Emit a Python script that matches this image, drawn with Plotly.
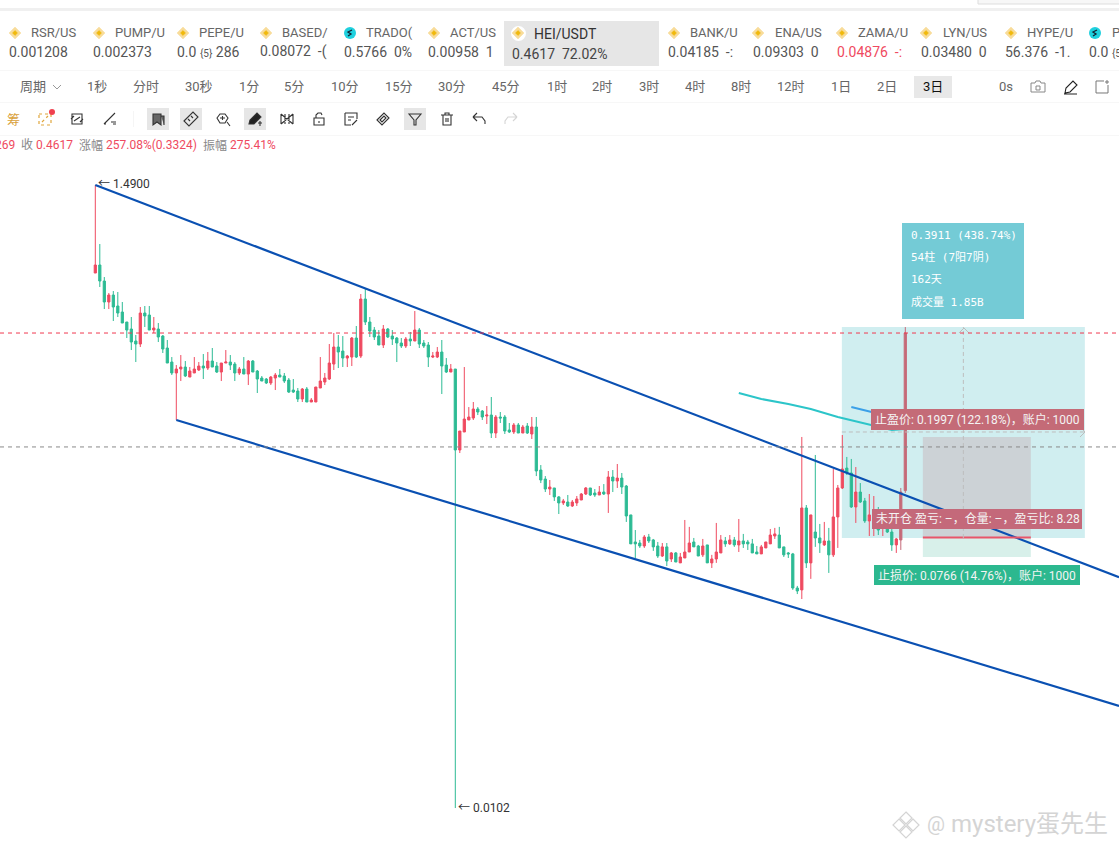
"""HEI/USDT 3日 K线截图复刻 (Plotly)."""
import re

import plotly.graph_objects as go

W, H = 1119, 850
UI_FONT = "Roboto, Noto Sans CJK SC, sans-serif"
MONO_FONT = "DejaVu Sans Mono, Noto Sans CJK SC, monospace"

RED = "#EF4A60"
GREEN = "#2DBB94"
MUTED = "#C56A78"
BLUE = "#0A50B2"

# ---- candles ----
opens = [
    .7369, .7857, .6912, .5844, .6180, .5660, .5394, .4980, .4709, .4278,
    .4176, .5351, .5266, .4671, .4709, .4452, .4045, .3616, .3312, .3419,
    .3474, .3207, .3312, .3392, .3502, .3446, .3645, .3502, .3338, .3587,
    .3616, .3558, .3312, .3419, .3285, .3645, .3365, .3182, .3156, .3057,
    .3182, .3259, .3233, .3131, .2890, .2867, .2690, .2914, .2626, .2626,
    .2937, .3081, .3156, .3558, .4077, .3948, .3733, .3763, .4381, .3793,
    .5985, .4980, .4671, .4452, .4143, .4709, .4452, .4381, .4210, .4110,
    .4346, .4278, .4671, .4210, .4143, .3763, .3763, .3917, .3530, .3338,
    .3419, .1789, .2066, .2274, .2310, .2483, .2443, .2348, .2366, .2049,
    .2329, .2329, .2099, .2066, .2185, .2049, .2167, .2033, .2150, .1524,
    .1418, .1309, .1320, .1229, .1171, .1180, .1143, .1171, .1199, .1258,
    .1320, .1268, .1248, .1278, .1258, .1441, .1396, .1429, .1341, .1064,
    .0857, .0850, .0830, .0892, .0871, .0830, .0766, .0824, .0748, .0785,
    .0725, .0754, .0791, .0857, .0830, .0773, .0837, .0725, .0748, .0785,
    .0864, .0844, .0871, .0837, .0864, .0857, .0844, .0791, .0779, .0817,
    .0844, .0899, .0906, .0824, .0785, .0779, .0593, .0584, .1125, .0725,
    .0928, .0885, .0837, .0864, .0773, .1047, .1320, .1548, .1488, .1134,
    .1278, .1190, .1014, .0982, .1006, .0959, .0959, .0928, .0837, .0871,
    .1293,
]
highs = [
    1.490, .9294, .7137, .6280, .6381, .6330, .5844, .4980, .5183, .4488,
    .5615, .5660, .5660, .5183, .4940, .4488, .4312, .3763, .3530, .3824,
    .3645, .3474, .3763, .3616, .3855, .3917, .4045, .3616, .3587, .3980,
    .3824, .3616, .3474, .3763, .3674, .3674, .3392, .3233, .3182, .3233,
    .3312, .3419, .3312, .3182, .3156, .2937, .2937, .2961, .2711, .2961,
    .3763, .3312, .4176, .4560, .4488, .4452, .3824, .4417, .4823, .6230,
    .6484, .5183, .4784, .4671, .4862, .4746, .4671, .4417, .4381, .4417,
    .4597, .5437, .4746, .4312, .4243, .3917, .4077, .4312, .3733, .3558,
    .3419, .2082, .3474, .2522, .2626, .2522, .2463, .2543, .2733, .2366,
    .2424, .2366, .2220, .2220, .2220, .2185, .2220, .2329, .2329, .1586,
    .1452, .1407, .1320, .1238, .1209, .1248, .1199, .1238, .1268, .1330,
    .1320, .1309, .1341, .1362, .1512, .1524, .1599, .1488, .1352, .1064,
    .0943, .0871, .0906, .0914, .0878, .0857, .0850, .0850, .0791, .0791,
    .0785, .1022, .0967, .0885, .0837, .0878, .0837, .0773, .0998, .0906,
    .0892, .0906, .0892, .1030, .0914, .0871, .0878, .0830, .0837, .0857,
    .0951, .0959, .0967, .0824, .0791, .0785, .0603, .1985, .1152, .1064,
    .1719, .0990, .1006, .0959, .1536, .1352, .2017, .1692, .1665, .1561,
    .1373, .1219, .1258, .1238, .1134, .1039, .1006, .0959, .0885, .1320,
    .4784,
]
lows = [
    .7369, .6589, .5525, .5525, .5020, .5183, .4940, .4381, .3980, .3616,
    .4077, .4784, .4671, .4560, .4243, .3886, .3587, .3259, .2274, .3106,
    .3207, .3207, .3312, .3365, .3156, .3392, .3474, .3312, .3106, .3587,
    .3392, .3106, .3259, .3285, .3008, .3338, .2822, .3106, .3032, .3008,
    .2890, .3207, .3057, .2822, .2822, .2626, .2626, .2626, .2626, .2626,
    .2937, .3008, .3131, .3392, .3446, .3474, .3474, .3502, .3733, .3733,
    .4862, .4417, .4312, .4143, .4045, .4381, .4143, .3616, .4045, .4045,
    .4110, .4278, .4045, .4045, .3474, .3733, .3733, .2799, .3312, .3338,
    .0102, .1746, .2066, .2274, .2274, .2366, .2274, .2202, .1969, .1969,
    .2220, .2033, .2049, .2033, .2049, .2049, .2033, .1953, .1452, .1373,
    .1278, .1248, .1190, .1072, .1152, .1134, .1134, .1143, .1199, .1248,
    .1238, .1229, .1248, .1248, .1081, .1278, .1320, .1258, .1006, .0844,
    .0754, .0817, .0817, .0850, .0798, .0754, .0760, .0707, .0730, .0730,
    .0725, .0754, .0791, .0824, .0766, .0760, .0725, .0696, .0725, .0785,
    .0824, .0837, .0824, .0791, .0817, .0804, .0785, .0779, .0779, .0817,
    .0844, .0878, .0817, .0760, .0754, .0584, .0565, .0543, .0696, .0638,
    .0824, .0785, .0830, .0669, .0760, .0817, .1309, .1464, .1125, .0998,
    .1171, .0998, .0899, .0899, .0906, .0899, .0921, .0798, .0785, .0804,
    .1269,
]
closes = [
    .7857, .6912, .5844, .6180, .5615, .5351, .4940, .4671, .4243, .4176,
    .5351, .5224, .4671, .4746, .4417, .4012, .3587, .3312, .3419, .3474,
    .3233, .3365, .3419, .3502, .3446, .3645, .3474, .3338, .3587, .3616,
    .3530, .3312, .3419, .3285, .3645, .3338, .3156, .3106, .3057, .3207,
    .3259, .3207, .3106, .2844, .2844, .2690, .2914, .2626, .2668, .2961,
    .3106, .3182, .3587, .4077, .3917, .3733, .3793, .4381, .3763, .5985,
    .4980, .4634, .4417, .4143, .4709, .4417, .4346, .4210, .4110, .4346,
    .4278, .4671, .4176, .4110, .3763, .3793, .3917, .3502, .3338, .3419,
    .1789, .2082, .2292, .2329, .2483, .2424, .2329, .2366, .2049, .2329,
    .2310, .2082, .2066, .2185, .2049, .2150, .2049, .2150, .1512, .1407,
    .1309, .1330, .1229, .1171, .1190, .1143, .1180, .1209, .1258, .1320,
    .1248, .1248, .1278, .1258, .1441, .1396, .1429, .1330, .1055, .0844,
    .0844, .0830, .0892, .0864, .0824, .0766, .0824, .0736, .0785, .0730,
    .0760, .0791, .0850, .0824, .0766, .0830, .0725, .0748, .0791, .0871,
    .0844, .0871, .0837, .0864, .0844, .0844, .0785, .0779, .0824, .0857,
    .0906, .0914, .0817, .0773, .0779, .0593, .0579, .1125, .0725, .1064,
    .0885, .0850, .0864, .0773, .1047, .1320, .1536, .1488, .1134, .1278,
    .1180, .1014, .1064, .1022, .0943, .1006, .0928, .0837, .0878, .1278,
    .4560,
]
bars = list(range(len(opens)))

# ---- drawings on the chart, (bar index, price) ----
upper_x = [0, 227.5]
upper_y = [1.49, .0647]
lower_x = [18, 227.5]
lower_y = [.2274, .02308]
ma_x = [143, 148, 154, 159, 165, 172, 177, 180]
ma_y = [.2821, .2690, .2584, .2483, .2329, .2185, .2099, .2116]
ma2_x = [168, 172.5]
ma2_y = [.2522, .2424]
last_price = .4560
level_price = .1833

SMALL5 = '<span style="font-size:10px">{5}</span>'
tickers = [
    (15, 31, 9, "RSR/US", "0.001208", "#555", "b"),
    (99, 115, 93, "PUMP/U", "0.002373", "#555", "b"),
    (183, 199, 177, "PEPE/U", "0.0 " + SMALL5 + " 286", "#555", "b"),
    (266, 282, 260, "BASED/", "0.08072  -(", "#555", "b"),
    (350, 366, 344, "TRADO(", "0.5766  0%", "#555", "t"),
    (434, 450, 428, "ACT/US", "0.00958  1", "#555", "b"),
    (674, 690, 668, "BANK/U", "0.04185  -:", "#555", "b"),
    (758, 775, 753, "ENA/US", "0.09303  0", "#555", "b"),
    (842, 858, 837, "ZAMA/U", "0.04876  -:", RED, "b"),
    (926, 943, 921, "LYN/US", "0.03480  0", "#555", "b"),
    (1011, 1027, 1005, "HYPE/U", "56.376  -1.", "#555", "b"),
    (1095, 1112, 1089, "P", '0.0 <span style="font-size:10px">{5</span>', "#555", "t"),
]
periods = [
    (87, "1秒"), (133, "分时"), (185, "30秒"), (239, "1分"), (284, "5分"),
    (331, "10分"), (385, "15分"), (438, "30分"), (492, "45分"), (547, "1时"),
    (592, "2时"), (639, "3时"), (685, "4时"), (731, "8时"), (777, "12时"),
    (831, "1日"), (877, "2日"), (923, "3日"),
]
info_lines = ["0.3911 (438.74%)", "54柱 (7阳7阴)", "162天", "成交量 1.85B"]

annotations = []
shapes = []


def px(x):
    return x / W


def py(y):
    return 1 - y / H


def text(x, y, s, size=13, color="#555", font=UI_FONT, anchor="left"):
    annotations.append(dict(
        x=px(x), y=py(y), xref="paper", yref="paper", text=s, showarrow=False,
        xanchor=anchor, yanchor="middle", borderpad=0, borderwidth=0,
        font=dict(family=font, size=size, color=color),
    ))


def box(x0, y0, x1, y1, fill, line=None, layer="below"):
    shapes.append(dict(
        type="rect", xref="paper", yref="paper", layer=layer,
        x0=px(x0), x1=px(x1), y0=py(y0), y1=py(y1), fillcolor=fill,
        line=dict(color=line or fill, width=1 if line else 0),
    ))


def icon(cx, cy, d, color="#333", width=1.2, fill=None, dash=None):
    # path in pixels around (cx, cy), only M / L / Z
    out = []
    toks = re.findall(r"[MLZ]|-?\d+\.?\d*", d)
    i = 0
    while i < len(toks):
        if toks[i] == "Z":
            out.append("Z")
            i += 1
        else:
            x = float(toks[i + 1]) + cx
            y = float(toks[i + 2]) + cy
            out.append(f"{toks[i]}{px(x):.5f},{py(y):.5f}")
            i += 3
    shapes.append(dict(
        type="path", xref="paper", yref="paper", layer="above", path=" ".join(out),
        line=dict(color=color, width=width, dash=dash or "solid"),
        fillcolor=fill or "rgba(0,0,0,0)",
    ))


def coin(x, y, kind="b"):
    if kind == "t":
        shapes.append(dict(
            type="circle", xref="paper", yref="paper", layer="above",
            x0=px(x - 6), x1=px(x + 6), y0=py(y - 6), y1=py(y + 6),
            fillcolor="#1FD0DE", line=dict(width=0),
        ))
        icon(x, y, "M2,-3 L-2,-1 L1,1 L-2,3", color="#123", width=1.3)
    else:
        icon(x, y, "M0,-6 L6,0 L0,6 L-6,0 Z", color="#F8DC9A", width=0.5, fill="#F8DC9A")
        icon(x, y, "M0,-2.5 L2.5,0 L0,2.5 L-2.5,0 Z", color="#F0B90B", width=0.5, fill="#F0B90B")


def chart_label(x0, y0, x1, y1, s, fill, size=12):
    box(x0, y0, x1, y1, fill, layer="above")
    shapes[-1]["line"] = dict(width=0)
    text(x0 + 4, (y0 + y1) / 2, s, size=size, color="#F4F4F4")


# ---- page chrome ----
box(0, 8, W, 11, "#F0F0F0")
box(978, -2, W + 2, 4, "#F7F7F7", line="#DDDDDD")
box(0, 70, W, 70.6, "#EFEFEF")
box(0, 102, W, 102.6, "#EFEFEF")
box(0, 135, W, 135.6, "#EFEFEF")

for icon_x, name_x, price_x, name, price, col, kind in tickers:
    coin(icon_x, 33, kind)
    text(name_x, 33, name, size=13, color="#666")
    text(price_x, 52, price, size=14, color=col)

box(504, 21, 659, 66, "#E6E6E6", layer="below")
shapes.append(dict(type="circle", xref="paper", yref="paper", layer="above",
                   x0=px(511), x1=px(526), y0=py(26), y1=py(41),
                   fillcolor="#FFFFFF", line=dict(width=0)))
coin(518, 33)
text(534, 34, "HEI/USDT", size=14, color="#333")
text(512, 54, "0.4617  72.02%", size=14, color="#444")

text(20, 87, "周期", size=13, color="#666")
icon(57, 87, "M-4,-2 L0,2 L4,-2", color="#999", width=1)
box(914, 76, 952, 98, "#E8E8E8")
for x, label in periods:
    text(x, 87, label, size=13, color="#111" if label == "3日" else "#666")
text(999, 87, "0s", size=13, color="#666")
icon(1038, 87, "M-7,-4 L-3,-4 L-2,-6 L2,-6 L3,-4 L7,-4 L7,5 L-7,5 Z M-2,-1 L2,-1 L2,3 L-2,3 Z", color="#888", width=1)
icon(1071, 87, "M-6,6 L-5,1 L2,-6 L6,-2 L-1,5 Z M-7,7 L6,7", color="#222", width=1.1)
icon(1102, 87, "M2,-6 L-6,-6 L-6,6 L6,6 L6,-2", color="#777", width=1)
icon(1107, 82, "M-2,0 L2,0 M0,-2 L0,2", color="#777", width=1)

# drawing toolbar
for x in [158, 191, 255, 415]:
    box(x - 11, 108, x + 11, 130, "#E6E6E6")
text(7, 119, "筹", size=13, color="#D9A13B")
icon(45, 119, "M-6,-5 L6,-5 L6,6 L-6,6 Z M-3,3 L3,-3", color="#E0A63C", width=1.2, dash="dot")
shapes.append(dict(type="circle", xref="paper", yref="paper", layer="above",
                   x0=px(49), x1=px(55), y0=py(109), y1=py(115),
                   fillcolor="#F0414F", line=dict(width=0)))
tools = {
    77: ("M-5,-5 L5,-5 L5,5 L-5,5 Z M-3,2 L3,-2 M-6,0 L-3,-3 M6,0 L3,3", None),
    110: ("M-6,5 L5,-6 M-6,5 L-4,5 M1,3 L6,3 M3,5 L6,5", None),
    158: ("M-5,-5 L3,-5 L3,6 L-1,3 L-5,6 Z M3,-3 L6,-3 L6,6", "#666"),
    191: ("M-7,2 L2,-7 L7,-2 L-2,7 Z M-3,0 L-1,2 M0,-3 L2,-1", None),
    223: ("M-6,-1 L-3,-5 L2,-5 L5,-1 L2,4 L-3,4 Z M4,3 L7,7 M-3,-1 L2,-1 M-0.5,-3 L-0.5,1", None),
    255: ("M-6,5 L-5,1 L2,-6 L6,-2 L-1,5 Z M3,4 L7,4 M5,2 L5,7", "#222"),
    287: ("M-6,-5 L-6,5 M6,-5 L6,5 M-6,-5 L6,5 M-6,5 L6,-5 M-2,-5 L-2,5 M2,-5 L2,5", None),
    319: ("M-5,-1 L5,-1 L5,6 L-5,6 Z M-3,-1 L-3,-4 L-1,-6 L2,-6 L3,-4 M0,2 L0,4", None),
    351: ("M-6,-6 L6,-6 L6,0 M-6,-6 L-6,6 L0,6 M-3,-2 L3,-2 M-3,1 L0,1 M1,6 L6,1", None),
    383: ("M-6,1 L1,-6 L6,-1 L-1,6 Z M-3,1 L1,-3 L3,-1 L-1,3 Z", None),
    415: ("M-6,-5 L6,-5 L1,1 L1,6 L-1,6 L-1,1 Z", None),
    447: ("M-6,-4 L6,-4 M-2,-4 L-2,-6 L2,-6 L2,-4 M-4,-4 L-4,6 L4,6 L4,-4 M-1,-1 L-1,3 M1,-1 L1,3", None),
    479: ("M-6,-2 L-2,-6 M-6,-2 L-2,2 M-6,-2 L3,-2 L6,2 L6,5", None),
}
for x, (d, fill) in tools.items():
    icon(x, 119, d, color="#333", width=1.1, fill=fill)
icon(511, 119, "M6,-2 L2,-6 M6,-2 L2,2 M6,-2 L-3,-2 L-6,2 L-6,5", color="#D5D5D5", width=1.1)
box(133, 111, 133.6, 127, "#EEEEEE")

# OHLC line
text(-5, 145, "269", size=12, color=RED)
text(21, 145, "收", size=12, color="#888")
text(36, 145, "0.4617", size=12, color=RED)
text(79, 145, "涨幅", size=12, color="#888")
text(106, 145, "257.08%(0.3324)", size=12, color=RED)
text(203, 145, "振幅", size=12, color="#888")
text(230, 145, "275.41%", size=12, color=RED)

# ---- position tool regions (bar index and price) ----
for x0, x1, y0, y1, fill in [
    (165.9, 219.9, .0885, .4784, "#D0EEF0"),
    (183.9, 207.9, .0892, .1985, "#CCD2D6"),
    (183.9, 207.9, .0760, .0892, "#D8F0EA"),
]:
    shapes.append(dict(
        type="rect", xref="x", yref="y", layer="below", x0=x0, x1=x1, y0=y0, y1=y1,
        fillcolor=fill, line=dict(width=0),
    ))
shapes.append(dict(type="line", xref="x", yref="y", layer="above", x0=183.9, x1=207.9,
                   y0=.0889, y1=.0889, line=dict(color="#E8556A", width=2)))
shapes.append(dict(type="line", xref="x", yref="y", layer="above", x0=192.9, x1=192.9,
                   y0=.0885, y1=.4784, line=dict(color="#BDBDBD", width=1, dash="4px,3px")))
shapes.append(dict(type="line", xref="x", yref="y", layer="above", x0=165.9, x1=219.9,
                   y0=.2066, y1=.2066, line=dict(color="#BDBDBD", width=1, dash="4px,3px")))
icon(964, 328, "M-5,5 L0,0 L5,5", color="#BDBDBD", width=1)
icon(1085, 432, "M-5,-5 L0,0 L-5,5", color="#BDBDBD", width=1)

# price lines
for level, col in [(last_price, "#F0384F"), (level_price, "#8A8A8A")]:
    shapes.append(dict(type="line", xref="paper", yref="y", layer="above", x0=0, x1=1,
                       y0=level, y1=level, line=dict(color=col, width=1, dash="4px,4px")))

# labels
box(902, 223, 1024, 319, "#74CBD6", layer="above")
for y, s in zip([236, 257, 279, 302], info_lines):
    text(911, y, s, size=11, color="#FFFFFF", font=MONO_FONT)
chart_label(871, 409, 1084, 430, "止盈价: 0.1997 (122.18%)，账户: 1000", "#C46B77")
chart_label(872, 509, 1082, 529, "未开仓 盈亏: –，仓量: –，盈亏比: 8.28", "#C4697A")
chart_label(874, 565, 1080, 585, "止损价: 0.0766 (14.76%)，账户: 1000", "#2CB88F")

text(98, 184, "← 1.4900", size=12, color="#333")
text(458, 808, "← 0.0102", size=12, color="#333")

# watermark
WM = "#D4D4D4"
icon(906, 824, "M0,-12 L6,-6 L0,0 L-6,-6 Z M-7,-5 L-1,1 L-7,7 L-13,1 Z M7,-5 L13,1 L7,7 L1,1 Z M0,2 L6,8 L0,14 L-6,8 Z",
     color=WM, width=1.2)
text(927, 824, "@", size=20, color=WM)
text(951, 824, "mystery蛋先生", size=24, color=WM)

fig = go.Figure()
fig.add_trace(go.Candlestick(
    x=bars[:-2], open=opens[:-2], high=highs[:-2], low=lows[:-2], close=closes[:-2],
    increasing=dict(line=dict(color=RED, width=1), fillcolor=RED),
    decreasing=dict(line=dict(color=GREEN, width=1), fillcolor=GREEN),
    whiskerwidth=0, showlegend=False,
))
fig.add_trace(go.Candlestick(
    x=bars[-2:], open=opens[-2:], high=highs[-2:], low=lows[-2:], close=closes[-2:],
    increasing=dict(line=dict(color=MUTED, width=1), fillcolor=MUTED),
    decreasing=dict(line=dict(color=MUTED, width=1), fillcolor=MUTED),
    whiskerwidth=0, showlegend=False,
))
for xs, ys, col, lw in [
    (upper_x, upper_y, BLUE, 2.2),
    (lower_x, lower_y, BLUE, 2.2),
    (ma_x, ma_y, "#2CC5C9", 2),
    (ma2_x, ma2_y, "#3BA0E8", 2),
]:
    fig.add_trace(go.Scatter(x=xs, y=ys, mode="lines", line=dict(color=col, width=lw),
                             showlegend=False, hoverinfo="skip"))

fig.update_layout(
    width=W,
    height=H,
    margin=dict(l=0, r=0, t=0, b=0),
    paper_bgcolor="#FFFFFF",
    plot_bgcolor="rgba(0,0,0,0)",
    font=dict(family=UI_FONT),
    xaxis=dict(range=[-21.18, 227.49], visible=False, rangeslider=dict(visible=False)),
    yaxis=dict(type="log", range=[-2.1372, 0.8160], visible=False),
    shapes=shapes,
    annotations=annotations,
)

fig.write_html(
    "out.html",
    config={"displayModeBar": False},
    post_script="document.body.style.margin='0';document.body.style.overflow='hidden';",
)
